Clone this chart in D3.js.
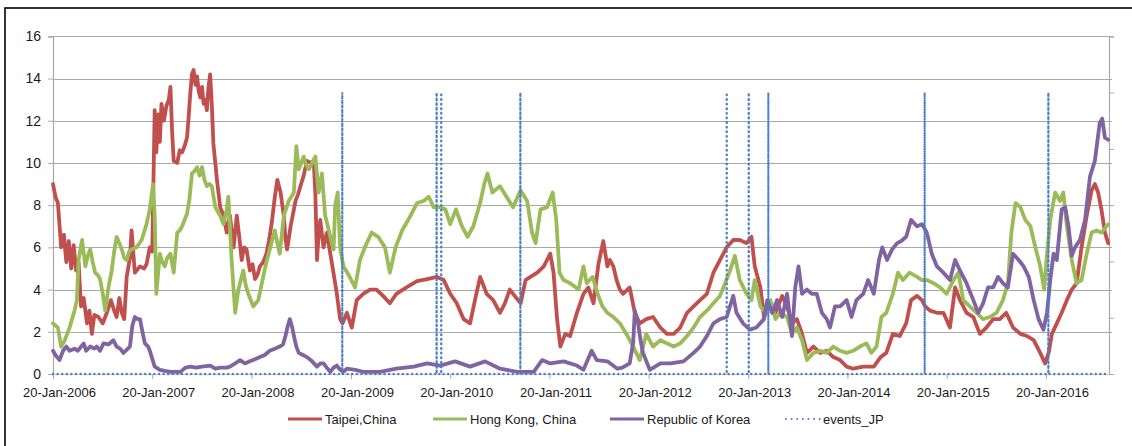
<!DOCTYPE html>
<html>
<head>
<meta charset="utf-8">
<script src="https://cdn.jsdelivr.net/npm/d3@7"></script>
<style>
  html, body { margin: 0; padding: 0; background: #fff; }
  svg { display: block; font-family: "Liberation Sans", Arial, sans-serif; }
</style>
</head>
<body>
<svg id="chart" width="1132" height="446"></svg>
<script>
// Weekly volatility-style indices, Jan 2006 – Sep 2016.
// Each point: [months since 20-Jan-2006, value]
const startLabel = "20-Jan-2006";
const endLabel = "08-Sep-2016";

const yearTickLabels = [
  "20-Jan-2006", "20-Jan-2007", "20-Jan-2008", "20-Jan-2009", "20-Jan-2010", "20-Jan-2011",
  "20-Jan-2012", "20-Jan-2013", "20-Jan-2014", "20-Jan-2015", "20-Jan-2016"
];
const yTicks = [0, 2, 4, 6, 8, 10, 12, 14, 16];
const y2Ticks = [0, 0.2, 0.4, 0.6, 0.8, 1.0, 1.2];

const seriesNames = ["Taipei,China", "Hong Kong, China", "Republic of Korea"];
const eventsName = "events_JP";
const eventDates = [
  "2008-12-19", "2009-12-01", "2009-12-18", "2010-10-05", "2012-11-02",
  "2013-01-22", "2013-04-04", "2014-10-31", "2016-01-29"
];

const taipei = [
  [0,9.0],[0.3,8.4],[0.6,8.1],[1.0,6.0],[1.3,6.6],[1.6,5.3],[1.9,6.3],[2.2,5.0],[2.5,6.1],[2.8,4.9],
  [3.1,5.3],[3.4,3.2],[3.7,3.6],[4.1,2.4],[4.4,3.0],[4.7,1.9],[5.0,2.8],[5.5,2.7],[6.0,2.4],[6.5,2.9],
  [7.0,3.5],[7.4,3.0],[7.7,2.7],[8.0,3.6],[8.3,2.9],[8.6,2.6],[8.9,4.6],[9.3,5.5],[9.5,6.8],[9.9,4.8],
  [10.5,5.1],[11.0,5.0],[11.3,5.2],[11.7,6.0],[12.0,5.8],[12.3,12.5],[12.5,10.5],[12.7,12.3],[12.9,11.0],[13.1,12.8],
  [13.4,12.0],[13.7,12.7],[14.0,13.0],[14.2,13.6],[14.4,11.5],[14.6,10.1],[15.0,10.0],[15.3,10.6],[15.6,10.5],[15.9,10.8],
  [16.2,11.2],[16.4,12.2],[16.6,13.3],[16.8,14.2],[17.0,14.4],[17.2,13.7],[17.4,14.1],[17.6,13.4],[17.8,13.1],[18.0,13.6],
  [18.2,12.8],[18.4,13.0],[18.6,12.5],[18.8,13.6],[19.0,14.2],[19.2,12.8],[19.4,10.9],[19.6,10.0],[19.8,9.2],[20.2,7.9],
  [20.6,7.5],[21.0,6.7],[21.4,7.5],[21.8,6.0],[22.2,7.5],[22.5,6.5],[22.8,5.4],[23.1,6.0],[23.4,5.9],[23.8,4.9],
  [24.1,5.2],[24.4,4.5],[24.7,4.7],[25.0,5.1],[25.4,5.3],[25.8,5.7],[26.1,6.3],[26.4,7.1],[26.8,8.4],[27.1,9.2],
  [27.5,8.6],[27.9,7.5],[28.1,6.4],[28.3,5.9],[28.7,7.0],[29.0,7.6],[29.3,8.2],[29.6,8.5],[29.9,8.9],[30.3,9.4],
  [30.7,10.1],[31.1,10.0],[31.5,10.1],[31.7,8.5],[31.9,5.4],[32.1,6.6],[32.3,7.3],[32.7,6.0],[33.1,6.7],[33.5,5.7],
  [33.8,5.0],[34.3,3.8],[34.7,2.6],[35.0,2.4],[35.5,2.9],[36.1,2.2],[36.7,3.5],[37.5,3.8],[38.3,4.0],[39.1,4.0],
  [39.9,3.7],[40.7,3.35],[41.5,3.8],[42.7,4.1],[44.0,4.4],[45.2,4.5],[46.4,4.6],[47.2,4.45],[48.0,3.8],[48.8,3.35],
  [49.6,2.6],[50.4,2.4],[51.0,3.5],[51.6,4.6],[52.4,3.8],[53.2,3.5],[54.0,2.9],[54.6,3.35],[55.2,4.0],[55.8,3.7],
  [56.5,3.35],[57.1,4.45],[57.7,4.6],[58.5,4.8],[59.3,5.1],[60.1,5.7],[60.5,4.8],[60.9,2.6],[61.3,1.3],[61.9,1.9],
  [62.5,1.8],[63.3,2.9],[64.1,3.8],[64.7,4.1],[65.3,3.35],[65.9,5.2],[66.5,6.3],[67.0,5.1],[67.3,5.4],[67.7,5.1],
  [68.1,4.45],[68.5,4.0],[68.9,3.8],[69.7,4.1],[70.3,2.9],[70.9,2.4],[71.7,2.6],[72.5,2.7],[73.4,2.2],[74.2,1.9],
  [75.0,1.9],[75.8,2.2],[76.6,2.9],[77.4,3.2],[78.2,3.5],[79.0,3.8],[79.8,4.8],[80.6,5.4],[81.4,6.0],[82.2,6.35],
  [83.0,6.35],[83.8,6.2],[84.4,6.5],[84.8,5.1],[85.5,4.1],[85.9,2.7],[86.5,3.2],[87.3,2.9],[88.1,3.7],[88.7,3.2],
  [89.3,2.4],[89.9,2.6],[90.5,1.9],[91.1,1.0],[91.9,1.3],[92.7,1.0],[93.5,1.1],[94.3,0.8],[95.1,0.66],[95.9,0.35],
  [96.7,0.25],[97.9,0.35],[99.2,0.35],[100.0,0.8],[100.7,1.0],[101.5,1.9],[102.3,1.8],[103.1,2.4],[103.7,3.5],[104.4,3.7],
  [105.0,3.5],[105.4,3.2],[106.0,3.0],[106.8,2.9],[107.6,2.9],[108.4,2.2],[109.0,4.1],[109.6,3.5],[110.4,2.9],[111.2,2.7],
  [112.0,1.9],[112.8,2.2],[113.6,2.6],[114.4,2.6],[115.2,2.9],[116.0,2.2],[116.9,1.9],[117.7,1.8],[118.5,1.6],[119.3,1.0],
  [119.9,0.5],[120.3,1.0],[120.7,1.9],[121.3,2.4],[121.9,2.9],[122.5,3.5],[123.1,4.0],[123.7,4.3],[124.3,6.0],[124.9,7.5],
  [125.5,8.7],[125.9,9.0],[126.3,8.6],[126.7,7.8],[127.1,6.7],[127.5,6.2]
];

const hongKong = [
  [0,2.4],[0.3,2.3],[0.6,2.2],[1.0,1.3],[1.3,1.5],[1.7,1.9],[2.0,2.2],[2.3,2.6],[2.6,3.0],[2.9,3.5],
  [3.1,5.4],[3.5,6.35],[3.9,5.1],[4.2,5.6],[4.5,5.9],[4.8,5.3],[5.1,4.8],[5.4,4.7],[5.7,4.5],[6.0,3.8],
  [6.3,3.0],[6.7,4.1],[7.1,4.9],[7.4,5.8],[7.7,6.5],[8.0,6.2],[8.3,5.9],[8.6,5.5],[8.9,5.4],[9.2,5.8],
  [9.5,5.9],[10.1,6.0],[10.7,6.35],[11.3,7.1],[11.7,7.8],[12.1,9.0],[12.3,7.5],[12.5,3.8],[12.9,5.7],[13.2,5.3],
  [13.5,5.1],[13.8,5.5],[14.2,5.7],[14.6,4.8],[15.0,6.7],[15.3,6.8],[15.6,7.0],[15.9,7.3],[16.2,7.6],[16.5,8.3],
  [16.8,9.5],[17.1,9.6],[17.4,9.8],[17.7,9.4],[18.0,9.8],[18.3,9.2],[18.6,8.9],[18.9,9.0],[19.2,8.9],[19.6,7.9],
  [20.2,7.5],[20.6,7.1],[21.0,7.8],[21.2,8.4],[21.6,5.4],[22.0,2.9],[22.4,4.0],[23.0,4.9],[23.3,4.2],[23.6,3.8],
  [24.2,3.2],[24.8,3.5],[25.4,4.6],[25.8,5.3],[26.2,5.9],[26.8,6.8],[27.1,6.2],[27.4,5.7],[27.9,7.5],[28.5,8.2],
  [29.1,8.6],[29.4,10.8],[29.7,9.7],[30.0,10.0],[30.3,10.3],[30.6,9.9],[30.9,9.7],[31.3,10.0],[31.7,10.3],[32.1,8.6],
  [32.5,9.5],[32.9,7.5],[33.2,7.0],[33.5,6.5],[33.9,5.9],[34.1,8.0],[34.4,8.6],[34.7,6.0],[35.1,5.1],[35.7,4.7],
  [36.5,4.1],[37.1,5.4],[37.7,6.0],[38.5,6.7],[39.3,6.5],[40.1,6.0],[40.7,4.8],[41.4,6.0],[42.2,6.8],[43.2,7.5],
  [44.0,8.1],[44.8,8.2],[45.4,8.4],[46.0,7.9],[46.8,7.9],[47.4,7.8],[48.0,7.1],[48.7,7.8],[49.4,7.0],[50.1,6.5],
  [50.8,7.0],[51.6,8.1],[52.1,9.0],[52.5,9.5],[53.1,8.6],[54.0,8.9],[54.8,8.4],[55.6,7.9],[56.5,8.7],[57.3,8.2],
  [57.9,6.7],[58.3,6.2],[58.9,7.8],[59.7,7.9],[60.4,8.6],[60.8,7.3],[61.2,4.8],[61.7,4.45],[62.5,4.3],[63.5,4.0],
  [64.1,5.1],[64.5,4.3],[65.2,4.6],[65.8,3.8],[66.4,3.2],[67.0,2.9],[67.7,2.7],[68.5,2.4],[69.3,1.9],[70.1,1.3],
  [70.9,0.66],[71.7,1.9],[72.5,1.3],[73.4,1.6],[74.2,1.45],[75.0,1.3],[75.8,1.45],[76.6,1.8],[77.4,2.2],[78.2,2.7],
  [79.0,3.0],[79.8,3.35],[80.6,3.7],[81.2,4.3],[81.8,4.9],[82.4,5.6],[83.0,4.45],[83.8,3.8],[84.4,3.5],[84.8,4.45],
  [85.5,3.2],[86.1,2.9],[86.7,3.5],[87.3,2.6],[87.9,2.9],[88.7,2.7],[89.3,1.9],[89.9,2.2],[90.5,1.6],[91.1,0.66],
  [91.9,1.0],[92.7,1.1],[93.5,1.0],[94.3,1.3],[95.1,1.1],[95.9,1.0],[96.7,1.1],[97.5,1.3],[98.3,1.45],[98.9,1.0],
  [99.5,1.3],[100.1,2.7],[100.7,2.9],[101.5,3.8],[102.1,4.8],[102.7,4.45],[103.5,4.8],[104.4,4.6],[105.0,4.45],[105.6,4.45],
  [106.4,4.3],[107.2,4.1],[108.0,3.8],[108.8,4.45],[109.4,4.8],[110.0,3.5],[110.8,3.2],[111.6,2.9],[112.4,2.6],[113.2,2.7],
  [114.0,2.9],[114.8,3.5],[115.4,4.3],[115.8,6.7],[116.3,8.1],[116.9,7.9],[117.5,7.3],[118.1,7.0],[118.7,6.0],[119.3,5.1],
  [119.8,4.0],[120.1,5.7],[120.5,7.3],[121.1,8.6],[121.7,8.2],[122.1,8.6],[122.5,7.0],[123.1,5.4],[123.7,4.3],[124.3,4.45],
  [124.9,5.7],[125.5,6.7],[126.1,6.8],[126.7,6.7],[127.3,7.0],[127.5,7.1]
];

const korea = [
  [0,1.1],[0.3,0.9],[0.8,0.66],[1.2,1.1],[1.6,1.3],[2.0,1.1],[2.6,1.2],[3.0,1.1],[3.7,1.45],[4.0,1.1],
  [4.5,1.3],[5.0,1.2],[5.3,1.3],[5.7,1.1],[6.1,1.45],[6.7,1.4],[7.3,1.6],[7.7,1.3],[8.1,1.2],[8.5,1.0],
  [9.3,1.3],[9.6,2.3],[9.9,2.7],[10.2,2.6],[10.5,2.6],[10.8,2.0],[11.1,1.45],[11.5,1.3],[11.7,1.1],[12.3,0.35],
  [12.9,0.2],[13.5,0.15],[14.2,0.1],[15.4,0.1],[16.0,0.3],[16.6,0.35],[17.3,0.3],[18.0,0.35],[19.0,0.4],[19.6,0.25],
  [20.2,0.3],[21.0,0.3],[21.4,0.35],[22.0,0.5],[22.6,0.66],[23.2,0.5],[23.8,0.6],[24.4,0.7],[25.0,0.8],[25.6,0.9],
  [26.2,1.1],[26.8,1.2],[27.4,1.3],[27.8,1.4],[28.1,1.8],[28.4,2.3],[28.6,2.6],[28.9,2.2],[29.1,1.8],[29.4,1.3],
  [29.7,1.0],[30.2,0.9],[30.7,0.8],[31.3,0.6],[31.9,0.35],[32.3,0.5],[32.7,0.5],[33.1,0.3],[33.5,0.1],[33.9,0.3],
  [34.3,0.4],[34.7,0.2],[35.1,0.1],[35.5,0.25],[36.5,0.2],[37.5,0.1],[39.5,0.1],[41.5,0.25],[43.6,0.35],[45.2,0.5],
  [46.8,0.4],[48.6,0.6],[50.4,0.35],[52.2,0.6],[54.0,0.25],[56.1,0.1],[58.1,0.1],[59.1,0.66],[60.1,0.5],[61.7,0.6],
  [63.3,0.4],[64.1,0.2],[65.1,1.1],[65.7,0.66],[67.0,0.6],[68.2,0.25],[68.8,0.3],[69.7,0.5],[70.1,1.5],[70.3,3.0],
  [70.7,2.4],[71.0,1.6],[71.3,1.0],[72.1,0.2],[73.4,0.5],[74.6,0.5],[76.2,0.6],[77.4,1.0],[78.2,1.3],[79.0,1.8],
  [79.8,2.4],[80.6,2.6],[81.4,2.7],[82.2,3.7],[82.6,2.9],[83.4,2.4],[84.2,2.1],[85.0,2.2],[85.9,2.6],[86.3,3.5],
  [86.9,2.9],[87.5,3.5],[88.1,2.7],[88.7,3.8],[89.3,1.8],[89.7,4.1],[90.1,5.1],[90.5,3.8],[91.1,4.0],[91.7,3.8],
  [92.3,3.8],[92.9,2.9],[93.5,2.6],[93.9,2.2],[94.5,3.2],[95.1,3.2],[95.9,3.5],[96.5,2.7],[97.1,3.5],[97.9,3.8],
  [98.5,4.45],[99.2,3.8],[99.8,5.4],[100.2,6.0],[100.8,5.4],[101.4,5.9],[102.0,6.2],[102.5,6.3],[103.1,6.5],[103.7,7.3],
  [104.4,7.0],[105.0,7.1],[105.6,6.7],[106.2,5.7],[106.8,5.1],[107.6,4.8],[108.4,4.45],[109.0,5.4],[109.6,4.9],[110.4,4.3],
  [111.2,3.5],[111.8,2.9],[112.4,3.35],[113.0,4.1],[113.6,4.1],[114.2,4.6],[114.8,4.3],[115.4,4.1],[116.0,5.7],[116.7,5.4],
  [117.3,5.1],[117.9,4.6],[118.5,3.5],[119.1,2.6],[119.7,2.1],[120.1,2.9],[120.5,4.45],[120.9,5.7],[121.3,5.4],[121.9,7.8],
  [122.3,7.9],[122.7,7.0],[123.1,5.6],[123.5,6.0],[124.1,6.35],[124.7,7.3],[125.3,9.35],[125.9,10.1],[126.5,11.9],[126.8,12.1],
  [127.1,11.2],[127.5,11.1]
];

// ---- styling & layout ----
const colors = ["#C0504D", "#9BBB59", "#8064A2"];
const eventColor = "#4A7EC4";
const margin = { left: 53, right: 1109, top: 36.3, bottom: 374 };

const parseLabel = d3.timeParse("%d-%b-%Y");
const parseISO = d3.timeParse("%Y-%m-%d");
const start = parseLabel(startLabel);
const end = parseLabel(endLabel);
const monthToDate = m => d3.timeDay.offset(start, Math.round(m * 30.4375));

const x = d3.scaleTime().domain([start, end]).range([margin.left, margin.right]);
const y = d3.scaleLinear().domain([0, 16]).range([margin.bottom, margin.top]);
const y2 = d3.scaleLinear().domain([0, 1.2]).range([margin.bottom, margin.top]);

const svg = d3.select("#chart");

// outer frame
svg.append("rect")
  .attr("x", 5).attr("y", 8).attr("width", 1200).attr("height", 500)
  .attr("fill", "none").attr("stroke", "#000").attr("stroke-width", 1.6);

// horizontal gridlines
svg.append("g").selectAll("line").data(yTicks.filter(v => v > 0)).join("line")
  .attr("x1", margin.left).attr("x2", margin.right + 3)
  .attr("y1", d => Math.round(y(d)) + 0.5).attr("y2", d => Math.round(y(d)) + 0.5)
  .attr("stroke", "#A9A9A9").attr("stroke-width", 1.2);

// left axis
const yAxis = svg.append("g").attr("transform", `translate(${margin.left},0)`)
  .call(d3.axisLeft(y).tickValues(yTicks).tickSize(5).tickPadding(7).tickFormat(d3.format("d")));
yAxis.select(".domain").attr("stroke", "#A9A9A9").attr("stroke-width", 1.2);
yAxis.selectAll(".tick line").attr("stroke", "#A9A9A9");
yAxis.selectAll("text").attr("font-size", 14).attr("fill", "#1a1a1a")
  .attr("font-family", "Liberation Sans, Arial, sans-serif");

// right (secondary) axis for the event markers
const y2Axis = svg.append("g").attr("transform", `translate(${margin.right},0)`)
  .call(d3.axisRight(y2).tickValues(y2Ticks).tickSize(5).tickFormat(""));
y2Axis.select(".domain").attr("stroke", "#A9A9A9").attr("stroke-width", 1.2);
y2Axis.selectAll(".tick line").attr("stroke", "#A9A9A9");

// bottom axis
const yearDates = yearTickLabels.map(parseLabel);
svg.append("line")
  .attr("x1", margin.left).attr("x2", margin.right)
  .attr("y1", margin.bottom + 0.5).attr("y2", margin.bottom + 0.5)
  .attr("stroke", "#C8C8C8").attr("stroke-width", 1);
const xAxis = svg.append("g").attr("transform", `translate(0,${margin.bottom})`)
  .call(d3.axisBottom(x).tickValues(yearDates).tickSize(5).tickPadding(9)
    .tickFormat((d, i) => yearTickLabels[i]));
xAxis.select(".domain").remove();
xAxis.selectAll(".tick line").attr("stroke", "#A9A9A9");
xAxis.selectAll("text").attr("font-size", 13).attr("fill", "#1a1a1a").attr("dx", 6)
  .attr("font-family", "Liberation Sans, Arial, sans-serif");

// series lines
const line = d3.line()
  .x(d => x(monthToDate(d[0])))
  .y(d => y(d[1]))
  .curve(d3.curveLinear);

[taipei, hongKong, korea].forEach((s, i) => {
  svg.append("path").datum(s)
    .attr("d", line)
    .attr("fill", "none")
    .attr("stroke", colors[i])
    .attr("stroke-width", 3.8)
    .attr("stroke-linejoin", "round")
    .attr("stroke-linecap", "round");
});

// event markers on the secondary axis: 0 everywhere, 1 on event weeks
const eventPts = [[start, 0]];
eventDates.map(parseISO).forEach(d => {
  eventPts.push([d, 0], [d, 1], [d, 0]);
});
eventPts.push([end, 0]);
svg.append("path").datum(eventPts)
  .attr("d", d3.line().x(d => x(d[0])).y(d => y2(d[1])))
  .attr("fill", "none")
  .attr("stroke", eventColor)
  .attr("stroke-width", 2.4)
  .attr("stroke-linecap", "round")
  .attr("stroke-dasharray", "0.01 4.6");

// legend
const legendItems = [
  { name: seriesNames[0], color: colors[0], x: 288, dotted: false },
  { name: seriesNames[1], color: colors[1], x: 433, dotted: false },
  { name: seriesNames[2], color: colors[2], x: 610, dotted: false },
  { name: eventsName, color: eventColor, x: 786, dotted: true }
];
const lg = svg.append("g");
legendItems.forEach(it => {
  const ln = lg.append("line")
    .attr("x1", it.x).attr("x2", it.x + 34).attr("y1", 419).attr("y2", 419)
    .attr("stroke", it.color);
  if (it.dotted) {
    ln.attr("stroke-width", 2).attr("stroke-linecap", "round").attr("stroke-dasharray", "0.01 5.6");
  } else {
    ln.attr("stroke-width", 3.2);
  }
  lg.append("text")
    .attr("x", it.x + 37).attr("y", 423.5)
    .attr("font-size", 13).attr("fill", "#1a1a1a")
    .text(it.name);
});
</script>
</body>
</html>
